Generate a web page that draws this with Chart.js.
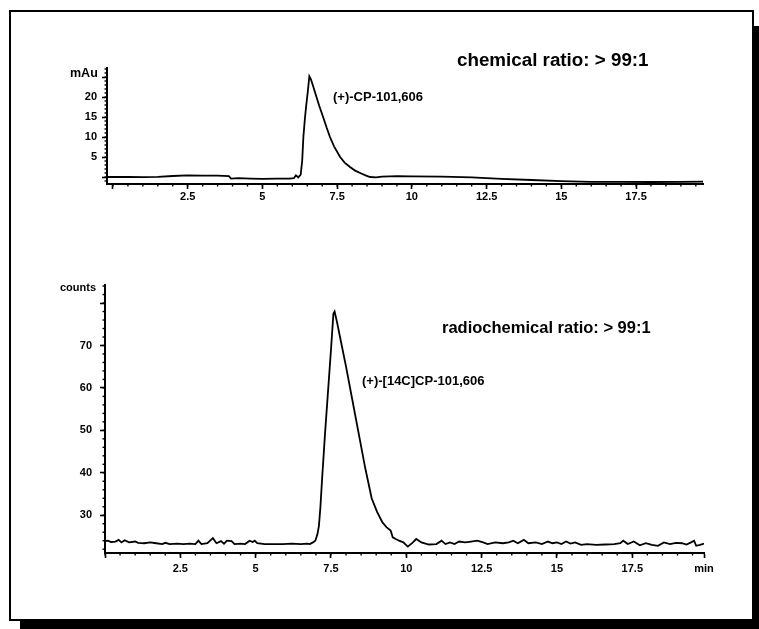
<!DOCTYPE html>
<html>
<head>
<meta charset="utf-8">
<script src="https://cdn.jsdelivr.net/npm/chart.js@4.4.1/dist/chart.umd.min.js"></script>
<style>
  html, body { margin: 0; padding: 0; background: #fff; overflow: hidden; }
  body { width: 759px; height: 629px; position: relative; font-family: "Liberation Sans", Arial, sans-serif; }
  .frame { position: absolute; left: 9px; top: 10px; width: 745px; height: 611px; box-sizing: border-box;
           border: 2px solid #000; box-shadow: 11px 16px 0 #000; background: #fff; }
  .box { position: absolute; left: 0; width: 759px; }
  .lbl { position: absolute; font-weight: bold; color: #000; white-space: nowrap; }
</style>
</head>
<body>
<div class="frame"></div>
<div class="box" style="top:0;height:240px"><canvas id="graficoUV"></canvas></div>
<div class="box" style="top:240px;height:389px"><canvas id="graficoRadio"></canvas></div>

<div class="lbl" style="left:70px;top:67px;font-size:12.5px;line-height:12px">mAu</div>
<div class="lbl" style="left:457px;top:50px;font-size:18.8px;line-height:19px">chemical ratio: &gt; 99:1</div>
<div class="lbl" style="left:333px;top:90px;font-size:13px;line-height:13px">(+)-CP-101,606</div>
<div class="lbl" style="left:60px;top:281px;font-size:11px;line-height:12px">counts</div>
<div class="lbl" style="left:442px;top:318px;font-size:16.5px;line-height:18px">radiochemical ratio: &gt; 99:1</div>
<div class="lbl" style="left:362px;top:374px;font-size:13px;line-height:13px">(+)-[14C]CP-101,606</div>

<script>
// --- datos: cromatograma UV (mAu vs min)
const uvTiempo = [-0.2, 0.5, 1.0, 1.5, 2.0, 2.5, 3.0, 3.5, 3.88, 3.95, 4.2, 4.6, 5.0, 5.5, 5.9, 6.05, 6.12, 6.2, 6.28,
                  6.33, 6.37, 6.42, 6.46, 6.52, 6.57, 6.62, 6.7, 6.8, 6.9, 7.03, 7.15, 7.26, 7.4, 7.6, 7.75, 7.93,
                  8.1, 8.27, 8.45, 8.6, 8.8, 9.0, 9.5, 10.0, 11.0, 12.0, 13.0, 14.0, 15.0, 16.0, 17.0, 18.0, 19.0, 19.74];
const uvMau    = [0.0, 0.0, -0.05, 0.05, 0.25, 0.4, 0.35, 0.35, 0.2, -0.4, -0.3, -0.4, -0.45, -0.4, -0.4, -0.3, 0.4, -0.1, 0.6,
                  4, 10, 14.5, 17.5, 21.5, 25.2, 24.5, 22.6, 20.2, 17.8, 15, 12.3, 10, 7.6, 5, 3.6, 2.5,
                  1.6, 1.0, 0.4, 0.0, -0.1, 0.1, 0.2, 0.15, 0.1, -0.1, -0.45, -0.75, -1.05, -1.2, -1.2, -1.25, -1.2, -1.15];

// --- datos: radiocromatograma (counts vs min)
const radTiempo = [0.0, 0.1, 0.2, 0.35, 0.45, 0.55, 0.65, 0.8, 1.0, 1.1, 1.3, 1.5, 1.7, 1.9, 2.0, 2.15, 2.4, 2.6, 2.8, 3.0,
                   3.1, 3.2, 3.4, 3.58, 3.7, 3.85, 3.95, 4.05, 4.2, 4.3, 4.5, 4.65, 4.8, 4.9, 4.97, 5.05, 5.3, 5.6, 5.9, 6.2,
                   6.5, 6.7, 6.8, 6.9, 6.98, 7.05, 7.1, 7.15, 7.2, 7.3, 7.4, 7.5, 7.58, 7.62, 7.7, 7.8, 8.0, 8.2, 8.4, 8.64,
                   8.85, 9.03, 9.2, 9.34, 9.48, 9.55, 9.65, 9.76, 9.9, 10.05, 10.2, 10.33, 10.5, 10.75, 11.0, 11.17, 11.3, 11.45, 11.6, 11.75,
                   11.95, 12.15, 12.35, 12.55, 12.7, 12.95, 13.2, 13.4, 13.55, 13.7, 13.9, 14.05, 14.3, 14.5, 14.7, 14.85, 15.0, 15.15, 15.3, 15.45,
                   15.6, 15.8, 16.0, 16.3, 16.6, 16.9, 17.1, 17.2, 17.35, 17.55, 17.75, 17.95, 18.15, 18.35, 18.55, 18.75, 18.95, 19.15, 19.3, 19.45,
                   19.55, 19.62, 19.75, 19.88];
const radCounts = [23.9, 24.0, 23.7, 23.8, 24.2, 23.6, 24.1, 23.6, 23.8, 23.5, 23.4, 23.6, 23.4, 23.2, 23.5, 23.2, 23.3, 23.2, 23.3, 23.2,
                   24.0, 23.2, 23.4, 24.6, 23.4, 23.9, 23.3, 24.0, 23.9, 23.2, 23.3, 23.2, 24.0, 23.7, 24.0, 23.4, 23.2, 23.2, 23.2, 23.3,
                   23.2, 23.3, 23.2, 23.6, 24.0, 25.5, 27.5, 32, 38, 49, 59, 69, 77.5, 78, 75.5, 72, 65, 57.5, 50, 41,
                   34, 30.8, 28.4, 27.2, 26.4, 24.8, 24.4, 24.0, 23.6, 22.6, 23.5, 24.4, 23.6, 23.1, 23.2, 24.0, 23.2, 23.6, 23.2, 23.8,
                   23.6, 23.8, 24.0, 23.6, 23.2, 23.6, 23.4, 23.6, 24.0, 23.4, 24.2, 23.4, 23.6, 23.2, 23.8, 23.4, 23.6, 23.2, 23.8, 23.3,
                   23.6, 23.0, 23.2, 23.0, 23.1, 23.2, 23.4, 24.0, 23.2, 23.8, 22.9, 23.4, 23.0, 22.8, 23.6, 23.2, 23.5, 23.4, 23.1, 23.6,
                   24.0, 22.8, 23.0, 23.3];

// --- ejes / etiquetas
const etiquetasX = [2.5, 5, 7.5, 10, 12.5, 15, 17.5];
const etiquetasUV = [5, 10, 15, 20];
const etiquetasRad = [30, 40, 50, 60, 70];

const fuente = { family: '"Liberation Sans", Arial, sans-serif', size: 11, weight: 'bold' };
const tiene = (lista, v) => lista.some(l => Math.abs(l - v) < 1e-6);

// ticks menores dibujados con las escalas del grafico
const minorTicks = {
    id: 'minorTicks',
    afterDraw(chart, args, opts) {
        const ctx = chart.ctx;
        ctx.save();
        ctx.strokeStyle = '#000';
        ctx.lineWidth = 1.4;
        ['x', 'y'].forEach(id => {
            const s = chart.scales[id];
            const step = opts[id];
            const start = Math.ceil(s.min / step - 1e-9);
            for (let i = start; i * step <= s.max + 1e-9; i++) {
                const p = s.getPixelForValue(i * step);
                ctx.beginPath();
                if (id === 'x') { ctx.moveTo(p, s.top); ctx.lineTo(p, s.top + opts.len); }
                else { ctx.moveTo(s.right, p); ctx.lineTo(s.right - opts.len, p); }
                ctx.stroke();
            }
        });
        ctx.restore();
    }
};

function ejeX(min, max, incluirFin, pad) {
    return {
        type: 'linear', min: min, max: max,
        border: { color: '#000', width: 2 },
        grid: { drawOnChartArea: false, color: '#000', tickLength: 5, tickWidth: 1.6 },
        ticks: {
            stepSize: 2.5, includeBounds: incluirFin, autoSkip: false, maxRotation: 0,
            color: '#000', font: fuente, padding: pad,
            callback: v => (incluirFin && Math.abs(v - max) < 1e-6) ? 'min' : (tiene(etiquetasX, v) ? String(v) : '')
        },
        afterFit: s => { s.height = 30; }
    };
}

function ejeY(min, max, paso, etiquetas, ancho, pad) {
    return {
        type: 'linear', min: min, max: max,
        border: { color: '#000', width: 2 },
        grid: { drawOnChartArea: false, color: '#000', tickLength: 5, tickWidth: 1.6 },
        ticks: {
            stepSize: paso, includeBounds: false, autoSkip: false,
            color: '#000', font: fuente, padding: pad,
            callback: v => tiene(etiquetas, v) ? String(v) : ''
        },
        afterFit: s => { s.width = ancho; }
    };
}

// Grafico UV
new Chart(document.getElementById('graficoUV').getContext('2d'), {
    type: 'line',
    data: {
        datasets: [{
            label: 'mAu',
            data: uvTiempo.map((t, i) => ({ x: t, y: uvMau[i] })),
            borderColor: '#000', borderWidth: 1.8, pointRadius: 0, tension: 0
        }]
    },
    options: {
        responsive: true, maintainAspectRatio: false, animation: false,
        layout: { padding: { left: 0, right: 56, top: 68, bottom: 26 } },
        plugins: { legend: { display: false }, tooltip: { enabled: false }, minorTicks: { x: 0.5, y: 1, len: 2.5 } },
        scales: {
            x: ejeX(-0.2, 19.74, false, 1),
            y: ejeY(-1.75, 27.25, 5, etiquetasUV, 107, 5)
        }
    },
    plugins: [minorTicks]
});

// Grafico radioquimico
new Chart(document.getElementById('graficoRadio').getContext('2d'), {
    type: 'line',
    data: {
        datasets: [{
            label: 'counts',
            data: radTiempo.map((t, i) => ({ x: t, y: radCounts[i] })),
            borderColor: '#000', borderWidth: 1.8, pointRadius: 0, tension: 0
        }]
    },
    options: {
        responsive: true, maintainAspectRatio: false, animation: false,
        layout: { padding: { left: 0, right: 55, top: 45, bottom: 46 } },
        plugins: { legend: { display: false }, tooltip: { enabled: false }, minorTicks: { x: 0.5, y: 2, len: 2.5 } },
        scales: {
            x: ejeX(0, 19.88, true, 4),
            y: ejeY(21.1, 84.25, 10, etiquetasRad, 105, 8)
        }
    },
    plugins: [minorTicks]
});
</script>
</body>
</html>
